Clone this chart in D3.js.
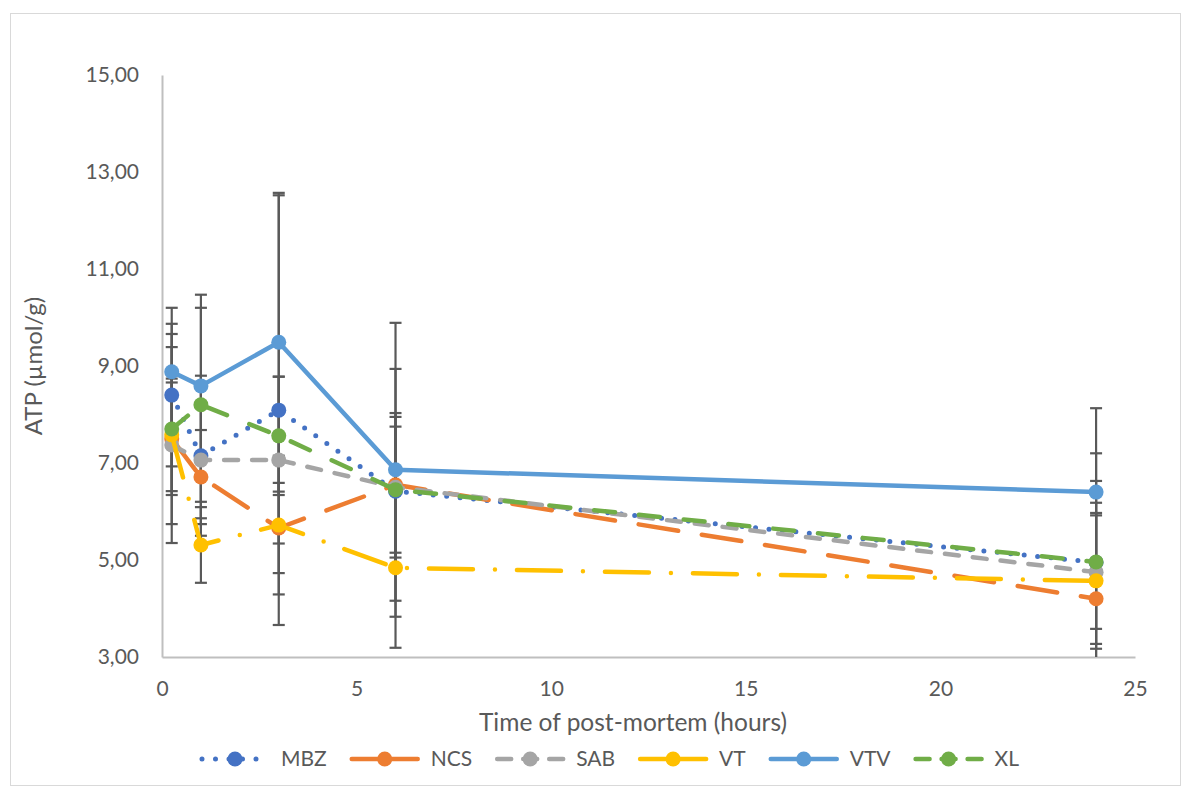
<!DOCTYPE html>
<html>
<head>
<meta charset="utf-8">
<script src="https://cdn.jsdelivr.net/npm/d3@7"></script>
<style>
  html, body { margin: 0; padding: 0; background: #ffffff; }
  svg { display: block; }
  text { font-family: Lato, "Open Sans", sans-serif; fill: #595959; }
</style>
</head>
<body>
<svg id="chart" width="1192" height="789"></svg>
<script>
// ---- data ----
const hours = [0.25, 1, 3, 6, 24];
const seriesNames = ["MBZ", "NCS", "SAB", "VT", "VTV", "XL"];
const MBZ = [8.40, 7.15, 8.09, 6.42, 4.95];
const NCS = [7.50, 6.71, 5.66, 6.55, 4.20];
const SAB = [7.37, 7.06, 7.06, 6.50, 4.75];
const VT  = [7.58, 5.31, 5.72, 4.84, 4.57];
const VTV = [8.88, 8.59, 9.49, 6.86, 6.40];
const XL  = [7.70, 8.20, 7.56, 6.45, 4.96];
const MBZ_err = [1.47, 1.65, 4.43, 1.61, 1.68];
const NCS_err = [1.16, 0.97, 0.93, 2.39, 1.98];
const SAB_err = [2.02, 1.20, 1.72, 1.45, 1.17];
const VT_err  = [1.16, 0.78, 1.43, 1.65, 1.40];
const VTV_err = [1.32, 1.88, 3.08, 3.03, 1.73];
const XL_err  = [1.96, 2.00, 1.22, 1.30, 2.24];
const xTicks = [0, 5, 10, 15, 20, 25];
const yTicks = [3, 5, 7, 9, 11, 13, 15];
const xTitle = "Time of post-mortem (hours)";
const yTitle = "ATP (µmol/g)";

// ---- styles ----
const styles = {
  MBZ: { color: "#4472C4", dash: "0 13.5", width: 5, legDash: "0 13.5" },
  NCS: { color: "#ED7D31", dash: "40 24", width: 4.5, legDash: null },
  SAB: { color: "#A5A5A5", dash: "14 14", width: 4.5, legDash: "14 12" },
  VT:  { color: "#FFC000", dash: "44 22 0 22", width: 4.5, legDash: null },
  VTV: { color: "#5B9BD5", dash: null, width: 4.5, legDash: null },
  XL:  { color: "#70AD47", dash: "21 24", width: 4.5, legDash: "14 12" }
};
const values = { MBZ, NCS, SAB, VT, VTV, XL };
const errors = { MBZ: MBZ_err, NCS: NCS_err, SAB: SAB_err, VT: VT_err, VTV: VTV_err, XL: XL_err };

const svg = d3.select("#chart");
const L = 162, R = 1135, T = 75, B = 657;
const x = d3.scaleLinear().domain([0, 25]).range([L, R]);
const y = d3.scaleLinear().domain([3, 15]).range([B, T]);
const fmt = v => d3.format(".2f")(v).replace(".", ",");

// chart border
svg.append("rect").attr("x", 10.5).attr("y", 13.5).attr("width", 1170).attr("height", 772)
  .attr("fill", "#fff").attr("stroke", "#D9D9D9").attr("stroke-width", 1);

svg.append("defs").append("clipPath").attr("id", "plotclip")
  .append("rect").attr("x", L - 20).attr("y", T - 20).attr("width", R - L + 40).attr("height", B - T + 20);

// axes
const yAxis = svg.append("g").attr("transform", `translate(${L},0)`)
  .call(d3.axisLeft(y).tickValues(yTicks).tickFormat(fmt).tickSize(0).tickPadding(23));
yAxis.select(".domain").attr("stroke", "#BFBFBF").attr("stroke-width", 2);
yAxis.selectAll("text").style("font-size", "21px").attr("fill", "#595959").style("font-family", "Lato");

const xAxis = svg.append("g").attr("transform", `translate(0,${B})`)
  .call(d3.axisBottom(x).tickValues(xTicks).tickFormat(d3.format("d")).tickSize(0).tickPadding(39));
xAxis.select(".domain").attr("stroke", "#BFBFBF").attr("stroke-width", 2);
xAxis.selectAll("text").style("font-size", "21px").attr("fill", "#595959").style("font-family", "Lato")
  .attr("dy", "0");

// titles
svg.append("text").attr("x", 633).attr("y", 731).attr("text-anchor", "middle")
  .style("font-size", "24.5px").text(xTitle);
svg.append("text").attr("transform", `translate(42,${(T + B) / 2}) rotate(-90)`).attr("text-anchor", "middle")
  .style("font-size", "24px").text(yTitle);

// error bars
const plot = svg.append("g").attr("clip-path", "url(#plotclip)");
const errG = plot.append("g");
seriesNames.forEach(name => {
  hours.forEach((h, i) => {
    const v = values[name][i], e = errors[name][i];
    const cx = x(h);
    const y1 = Math.min(y(v - e), B), y2 = y(v + e);
    errG.append("line").attr("x1", cx).attr("x2", cx).attr("y1", y1).attr("y2", y2)
      .attr("stroke", "#595959").attr("stroke-width", 2.2);
    errG.append("line").attr("x1", cx - 6).attr("x2", cx + 6).attr("y1", y2).attr("y2", y2)
      .attr("stroke", "#595959").attr("stroke-width", 2.2);
    if (v - e >= 3) {
      errG.append("line").attr("x1", cx - 6).attr("x2", cx + 6).attr("y1", y1).attr("y2", y1)
        .attr("stroke", "#595959").attr("stroke-width", 2.2);
    }
  });
});

// lines + markers
const line = d3.line().x(d => x(d[0])).y(d => y(d[1]));
seriesNames.forEach(name => {
  const st = styles[name];
  const pts = hours.map((h, i) => [h, values[name][i]]);
  plot.append("path").datum(pts).attr("d", line)
    .attr("fill", "none").attr("stroke", st.color).attr("stroke-width", st.width)
    .attr("stroke-linecap", "round").attr("stroke-linejoin", "round")
    .attr("stroke-dasharray", st.dash);
  plot.selectAll(null).data(pts).enter().append("circle")
    .attr("cx", d => x(d[0])).attr("cy", d => y(d[1])).attr("r", 7.5)
    .attr("fill", st.color);
});

// legend
const legY = 759;
const legG = svg.append("g");
const gap = 22;
let cursor = 205;
seriesNames.forEach(name => {
  const st = styles[name];
  const g = legG.append("g");
  const symL = cursor, symR = cursor + 72, cx = cursor + 36;
  g.append("line").attr("x1", symL + 3).attr("x2", symR - 3).attr("y1", legY).attr("y2", legY)
    .attr("stroke", st.color).attr("stroke-width", st.width).attr("stroke-linecap", "round")
    .attr("stroke-dasharray", st.legDash);
  g.append("circle").attr("cx", cx).attr("cy", legY).attr("r", 7.5).attr("fill", st.color);
  const t = g.append("text").attr("x", symR + 10).attr("y", legY).attr("dy", "0.35em")
    .style("font-size", "21px").text(name);
  const w = t.node().getComputedTextLength();
  cursor = symR + 10 + w + gap;
});
const totalW = cursor - gap - 205;
const shift = 609 - (205 + totalW / 2);
legG.attr("transform", `translate(${shift},0)`);
</script>
</body>
</html>
